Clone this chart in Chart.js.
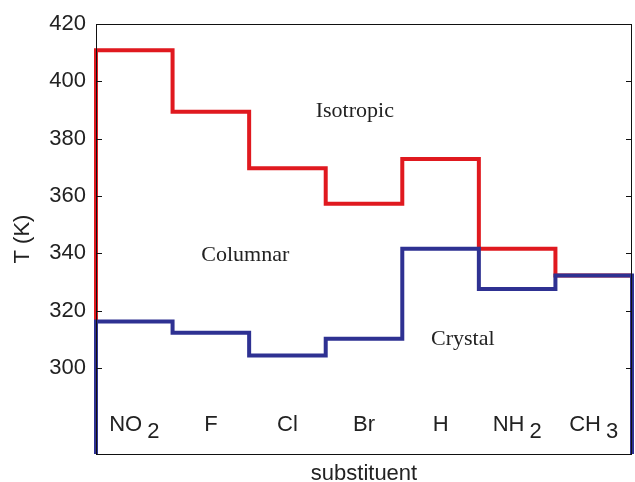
<!DOCTYPE html>
<html>
<head>
<meta charset="utf-8">
<script src="https://cdn.jsdelivr.net/npm/chart.js@4.4.1/dist/chart.umd.min.js"></script>
<style>
  html, body { margin: 0; padding: 0; background: #fff; }
  #wrap { width: 635px; height: 482px; }
</style>
</head>
<body>
<div id="wrap"><canvas id="phaseChart"></canvas></div>
<script>
// substituents along the x axis (main part + subscript)
const categories = ['NO', 'F', 'Cl', 'Br', 'H', 'NH', 'CH'];
const subscripts = ['2', '', '', '', '', '2', '3'];

// transition temperatures (K)
const isotropicT = [410.8, 389.4, 369.7, 357.3, 372.9, 341.6, 332.3];
const crystalT = [316.2, 312.3, 304.4, 310.2, 341.6, 327.6, 332.3];

const yTicks = [300, 320, 340, 360, 380, 400, 420];
const yMin = 270;
const yMax = 420;

// turn one value per substituent into the corners of a staircase
function staircase(values, closeRight) {
    const pts = [{ x: 0, y: yMin }];
    values.forEach((v, i) => {
        pts.push({ x: i, y: v });
        pts.push({ x: i + 1, y: v });
    });
    if (closeRight) pts.push({ x: values.length, y: yMin });
    return pts;
}

// frame, inward ticks, category labels and phase names
const decorations = {
    id: 'decorations',
    afterDatasetsDraw(chart) {
        const { ctx, chartArea: a, scales } = chart;
        const xs = scales.x, ys = scales.y;
        ctx.save();
        ctx.strokeStyle = '#111';
        ctx.lineWidth = 1;
        ctx.strokeRect(a.left + 0.5, a.top + 0.5, a.right - a.left - 1, a.bottom - a.top);
        ctx.beginPath();
        yTicks.forEach(t => {
            const y = Math.round(ys.getPixelForValue(t)) + 0.5;
            ctx.moveTo(a.left, y); ctx.lineTo(a.left + 6, y);
            ctx.moveTo(a.right, y); ctx.lineTo(a.right - 6, y);
        });
        ctx.stroke();

        // substituent labels with subscripts
        ctx.fillStyle = '#222';
        ctx.textBaseline = 'alphabetic';
        ctx.font = '22px "Liberation Sans", Arial, sans-serif';
        categories.forEach((c, i) => {
            const sub = subscripts[i];
            const mainW = ctx.measureText(c).width;
            const gap = sub ? 5 : 0;
            const subW = sub ? ctx.measureText(sub).width : 0;
            const total = mainW + gap + subW;
            const cx = xs.getPixelForValue(i + 0.5);
            const base = ys.getPixelForValue(278);
            ctx.textAlign = 'left';
            ctx.fillText(c, cx - total / 2, base);
            if (sub) ctx.fillText(sub, cx - total / 2 + mainW + gap, base + 7);
        });

        // phase region names
        ctx.font = '22px "Liberation Serif", "Times New Roman", serif';
        ctx.textAlign = 'center';
        ctx.textBaseline = 'middle';
        const phases = [['Isotropic', 3.38, 389.7], ['Columnar', 1.95, 339.5], ['Crystal', 4.79, 309.9]];
        phases.forEach(([t, x, y]) => ctx.fillText(t, xs.getPixelForValue(x), ys.getPixelForValue(y)));
        ctx.restore();
    }
};

const ctx = document.getElementById('phaseChart').getContext('2d');
new Chart(ctx, {
    type: 'line',
    data: {
        datasets: [{
            label: 'Crystal',
            data: staircase(crystalT, true),
            borderColor: '#2e3192',
            borderWidth: 4,
            pointRadius: 0,
            fill: false,
            tension: 0,
            clip: 4,
            order: 1
        }, {
            label: 'Isotropic',
            data: staircase(isotropicT, false),
            borderColor: '#e0191f',
            borderWidth: 4,
            pointRadius: 0,
            fill: false,
            tension: 0,
            clip: 4,
            order: 2
        }]
    },
    options: {
        responsive: true,
        maintainAspectRatio: false,
        animation: false,
        layout: { padding: { top: 24, right: 3, left: 0, bottom: 0 } },
        plugins: { legend: { display: false }, tooltip: { enabled: false } },
        scales: {
            x: {
                type: 'linear',
                min: 0,
                max: categories.length,
                grid: { display: false },
                border: { display: false },
                ticks: { display: false },
                afterFit: axis => { axis.height = 28; },
                title: {
                    display: true,
                    text: 'substituent',
                    color: '#222',
                    font: { family: '"Liberation Sans", Arial, sans-serif', size: 22 },
                    padding: { top: 0, bottom: -5 }
                }
            },
            y: {
                min: yMin,
                max: yMax,
                grid: { display: false },
                border: { display: false },
                afterBuildTicks: axis => { axis.ticks = yTicks.map(v => ({ value: v })); },
                afterFit: axis => { axis.width = 96; },
                ticks: {
                    color: '#222',
                    padding: 2,
                    font: { family: '"Liberation Sans", Arial, sans-serif', size: 22 }
                },
                title: {
                    display: true,
                    text: 'T (K)',
                    color: '#222',
                    font: { family: '"Liberation Sans", Arial, sans-serif', size: 22 },
                    padding: { top: 10, bottom: 0 }
                }
            }
        }
    },
    plugins: [decorations]
});
</script>
</body>
</html>
